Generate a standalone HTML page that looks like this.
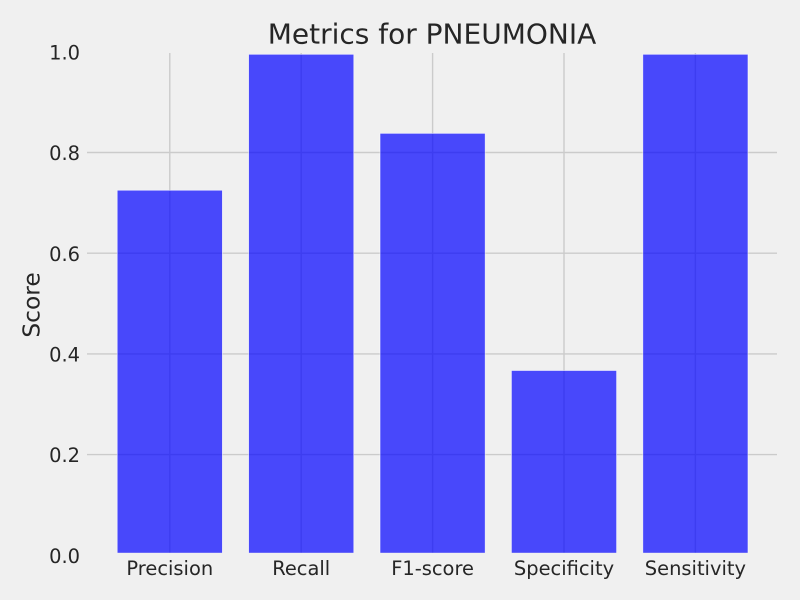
<!DOCTYPE html>
<html>
<head>
<meta charset="utf-8">
<title>Metrics for PNEUMONIA</title>
<style>
  html, body { margin: 0; padding: 0; background: #f0f0f0; }
  svg { display: block; }
  text { font-family: "DejaVu Sans", "Liberation Sans", sans-serif; fill: #262626; }
</style>
</head>
<body>
<svg id="chart" width="800" height="600" viewBox="0 0 800 600" xmlns="http://www.w3.org/2000/svg">
  <rect x="0" y="0" width="800" height="600" fill="#f0f0f0"/>
  <g id="grid"></g>
  <g id="bars"></g>
  <g id="spines"></g>
  <g id="xticks"></g>
  <g id="yticks"></g>
  <text x="432" y="43.5" text-anchor="middle" font-size="28">Metrics for PNEUMONIA</text>
  <text transform="translate(39.5,305) rotate(-90)" text-anchor="middle" font-size="23.33">Score</text>
</svg>
<script>
const categories = ['Precision', 'Recall', 'F1-score', 'Specificity', 'Sensitivity'];
const scores = [0.725, 0.995, 0.838, 0.367, 0.995];
const yTickValues = [0, 0.2, 0.4, 0.6, 0.8, 1.0];
const yTickLabels = ['0.0', '0.2', '0.4', '0.6', '0.8', '1.0'];

const NS = 'http://www.w3.org/2000/svg';
const plot = { left: 85.7, right: 779.5, top: 51.8, bottom: 555.3 };
const clip = { left: 87, right: 777, top: 53, bottom: 552.8 };
const xMin = -0.64, xMax = 4.64, yMin = 0, yMax = 1;
const barWidth = 0.8;

function xScale(v) {
  return plot.left + (v - xMin) / (xMax - xMin) * (plot.right - plot.left);
}
function yScale(v) {
  return plot.bottom - (v - yMin) / (yMax - yMin) * (plot.bottom - plot.top);
}
function make(tag, attrs, parent) {
  const el = document.createElementNS(NS, tag);
  for (const k in attrs) el.setAttribute(k, attrs[k]);
  parent.appendChild(el);
  return el;
}

const gridG = document.getElementById('grid');
const barsG = document.getElementById('bars');
const spinesG = document.getElementById('spines');
const xTicksG = document.getElementById('xticks');
const yTicksG = document.getElementById('yticks');

yTickValues.forEach(function (v, i) {
  const y = yScale(v);
  const line = make('line', { x1: plot.left, x2: plot.right, y1: y, y2: y, stroke: '#cbcbcb', 'stroke-width': 1.39 }, gridG);
  
  
  const label = make('text', { x: 80, y: y + 7.6, 'text-anchor': 'end', 'font-size': 19.44 }, yTicksG);
  label.textContent = yTickLabels[i];
  
  
});

categories.forEach(function (c, i) {
  const x = xScale(i);
  const line = make('line', { x1: x, x2: x, y1: plot.top, y2: plot.bottom, stroke: '#cbcbcb', 'stroke-width': 1.39 }, gridG);
  
  
  const label = make('text', { x: x, y: 575, 'text-anchor': 'middle', 'font-size': 19.44 }, xTicksG);
  label.textContent = c;
  
  
});

scores.forEach(function (s, i) {
  const x0 = xScale(i - barWidth / 2);
  const x1 = xScale(i + barWidth / 2);
  const y0 = yScale(s);
  const y1 = yScale(0);
  const bar = make('rect', {
    x: x0, y: y0, width: x1 - x0, height: y1 - y0,
    fill: '#0000ff', 'fill-opacity': 0.7,
    stroke: '#ffffff', 'stroke-opacity': 0.7, 'stroke-width': 0.7
  }, barsG);
  
  
});

const frame = make('rect', {
  x: clip.left - 2.78, y: clip.top - 2.78,
  width: clip.right - clip.left + 5.56, height: clip.bottom - clip.top + 5.56,
  fill: 'none', stroke: '#f0f0f0', 'stroke-width': 5.56
}, spinesG);


</script>
</body>
</html>
